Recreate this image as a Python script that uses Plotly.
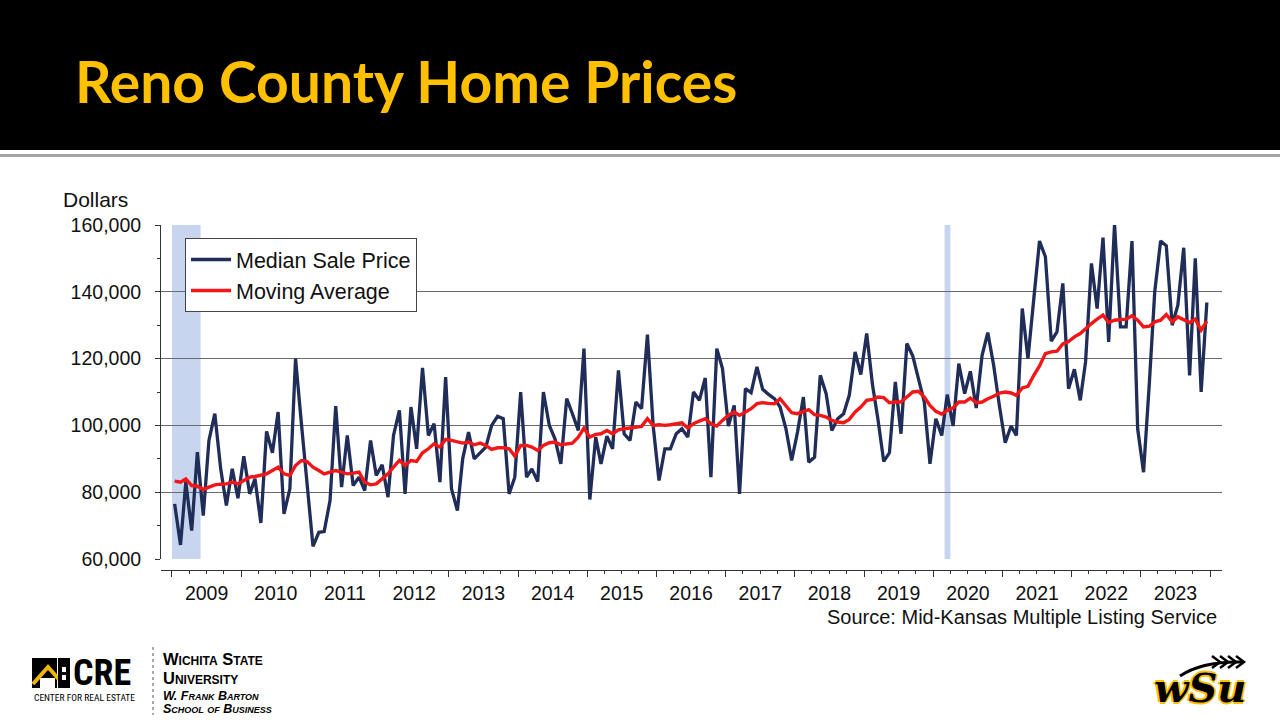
import pandas as pd
import plotly.graph_objects as go

# ---------------- data ----------------
start_month = "2009-01-01"
n_months = 180

median_price = [
    76500, 64200, 83000, 68500, 92000, 73000, 95500, 103500, 87000, 76000, 87000, 78200,      # 2009
    90800, 79500, 84000, 70800, 98200, 91800, 104000, 73500, 81000, 120000, 100500, 83000,    # 2010
    63800, 68000, 68200, 77500, 105800, 81500, 97000, 82000, 84500, 80500, 95500, 85000,      # 2011
    88200, 78500, 97000, 104500, 79500, 105500, 93000, 117200, 97000, 100500, 83000, 114500,  # 2012
    81000, 74500, 90000, 98000, 90000, 91800, 93500, 100000, 102700, 102000, 79500, 84500,    # 2013
    110000, 84500, 87000, 83200, 110000, 100000, 96000, 88500, 108000, 103500, 98500, 123000, # 2014
    77800, 96500, 88500, 96800, 93000, 116500, 97500, 95500, 107000, 105000, 127200, 100000,  # 2015
    83500, 93000, 93000, 97500, 99000, 96500, 110000, 107500, 114200, 84500, 123000, 117000,  # 2016
    99800, 106000, 79500, 111000, 109800, 117500, 110800, 109300, 108000, 105500, 99000, 89500,  # 2017
    98000, 108500, 89000, 90500, 115000, 109500, 98500, 102000, 103500, 109000, 122000, 115200,  # 2018
    127500, 112000, 102000, 89200, 91800, 113000, 97500, 124500, 120800, 114000, 107000, 88500,  # 2019
    102000, 97000, 109200, 99800, 118500, 109500, 116200, 105200, 121000, 127800, 118000, 106000,  # 2020
    94800, 99800, 97000, 135000, 120000, 138000, 155200, 150500, 125200, 128000, 142500, 111000,   # 2021
    116800, 107500, 119000, 148500, 135000, 156200, 125000, 160200, 129500, 129500, 155200, 99000, # 2022
    86000, 113000, 140000, 155200, 153800, 130000, 136000, 153200, 115000, 150000, 110000, 136800, # 2023
]

moving_avg = [
    83300, 83000, 84000, 82000, 81800, 80800, 81500, 82200, 82400, 82500, 83000, 82500,       # 2009
    83500, 84500, 84700, 85000, 85500, 86500, 87500, 85500, 85000, 88000, 89500, 89200,       # 2010
    87500, 86500, 85500, 86000, 86500, 86000, 85500, 85700, 86000, 83000, 82200, 82500,       # 2011
    84000, 85500, 87500, 89500, 88000, 89500, 89200, 91800, 93000, 94500, 93500, 95800,       # 2012
    95500, 95000, 94700, 95000, 94200, 94700, 94000, 92800, 93300, 93300, 93000, 90800,       # 2013
    94000, 94000, 93500, 92500, 94000, 94800, 95000, 94200, 94500, 94700, 96500, 99200,       # 2014
    96500, 97300, 97500, 98500, 97500, 98700, 99000, 99300, 99500, 99700, 102000, 100000,     # 2015
    100200, 100000, 100200, 100500, 100800, 99200, 100500, 101300, 102000, 100500, 99800, 101500,  # 2016
    103000, 104000, 103000, 104000, 105000, 106500, 106800, 106600, 106500, 108000, 106000, 103800,  # 2017
    103500, 104000, 104700, 103200, 103000, 102500, 101500, 101000, 100800, 101800, 104000, 105500,  # 2018
    107500, 107800, 108500, 108300, 106800, 107000, 107000, 108500, 110000, 110200, 108500, 106000,  # 2019
    104200, 103400, 104500, 105200, 107000, 107000, 108200, 106800, 107000, 108000, 108700, 109700,  # 2020
    110000, 109700, 109000, 111200, 111700, 115000, 117800, 121500, 122000, 122200, 124400, 125100,  # 2021
    126500, 127500, 129000, 130500, 131800, 133000, 130800, 131500, 131700, 131800, 132800, 131500,  # 2022
    129500, 129700, 131000, 131500, 133200, 131000, 132500, 131700, 130800, 131800, 128500, 131200,  # 2023
]

recessions = [("2009-01-01", "2009-06-01"), ("2020-03-01", "2020-04-01")]

series_names = ["Median Sale Price", "Moving Average"]
title_text = "Reno County Home Prices"
y_title = "Dollars"
source_text = "Source: Mid-Kansas Multiple Listing Service"

# ---------------- figure ----------------
months = pd.date_range(start_month, periods=n_months, freq="MS") + pd.Timedelta(days=14)

W, H = 1280, 720


def fx(p):
    return p / W


def fy(p):
    return 1 - p / H


FONT = "Arial, Liberation Sans, sans-serif"
COND = "Roboto Condensed, DejaVu Sans Condensed, Liberation Sans Narrow, Arial Narrow, Liberation Sans"
NAVY = "#1f2d58"
RED = "#f21616"
AXC = "#333333"

fig = go.Figure()
fig.add_trace(go.Scatter(x=months, y=median_price, name=series_names[0], mode="lines",
                         line=dict(color=NAVY, width=3.3)))
fig.add_trace(go.Scatter(x=months, y=moving_avg, name=series_names[1], mode="lines",
                         line=dict(color=RED, width=3.4)))

x_range = ["2008-11-04", "2024-03-04"]
y_range = [60000, 160000]

shapes = []
# header band
shapes.append(dict(type="rect", xref="paper", yref="paper", x0=0, x1=1, y0=fy(150), y1=1,
                   fillcolor="black", line=dict(width=0), layer="below"))
shapes.append(dict(type="line", xref="paper", yref="paper", x0=0, x1=1, y0=fy(155.5), y1=fy(155.5),
                   line=dict(color="#a3a3a3", width=3), layer="below"))
# recession shading
for r0, r1 in recessions:
    shapes.append(dict(type="rect", xref="x", yref="y", x0=r0, x1=r1, y0=y_range[0], y1=y_range[1],
                       fillcolor="#c8d5ee", line=dict(width=0), layer="below"))
# CRE logo pieces
shapes.append(dict(type="rect", xref="paper", yref="paper", x0=fx(32), x1=fx(57), y0=fy(688), y1=fy(658),
                   fillcolor="black", line=dict(width=0)))
shapes.append(dict(type="path", xref="paper", yref="paper",
                   path=f"M {fx(33)},{fy(684)} L {fx(48)},{fy(667)} L {fx(63)},{fy(684)}",
                   line=dict(color="#f2b705", width=4)))
shapes.append(dict(type="rect", xref="paper", yref="paper", x0=fx(40), x1=fx(55), y0=fy(688), y1=fy(678),
                   fillcolor="white", line=dict(width=0)))
shapes.append(dict(type="rect", xref="paper", yref="paper", x0=fx(58), x1=fx(70), y0=fy(688), y1=fy(658),
                   fillcolor="black", line=dict(width=0)))
shapes.append(dict(type="rect", xref="paper", yref="paper", x0=fx(62), x1=fx(66), y0=fy(672), y1=fy(667),
                   fillcolor="white", line=dict(width=0)))
shapes.append(dict(type="rect", xref="paper", yref="paper", x0=fx(62), x1=fx(66), y0=fy(680), y1=fy(675),
                   fillcolor="white", line=dict(width=0)))
shapes.append(dict(type="line", xref="paper", yref="paper", x0=fx(153), x1=fx(153), y0=fy(647), y1=fy(715),
                   line=dict(color="#555", width=1, dash="dot")))
# WSU wheat
shapes.append(dict(type="path", xref="paper", yref="paper",
                   path=f"M {fx(1180)},{fy(676)} Q {fx(1202)},{fy(661)} {fx(1243)},{fy(662)}",
                   line=dict(color="black", width=3)))
for k in range(4):
    xx = 1212 + k * 8
    shapes.append(dict(type="path", xref="paper", yref="paper",
                       path=f"M {fx(xx)},{fy(656)} L {fx(xx + 8)},{fy(662)} L {fx(xx)},{fy(668)}",
                       line=dict(color="black", width=2.5)))

annotations = [
    dict(text=title_text, x=fx(73), y=fy(81), xref="paper", yref="paper", xanchor="left", yanchor="middle",
         showarrow=False, font=dict(family="Lato, Carlito, Open Sans, sans-serif", size=57, color="#FFC000",
                                    weight="bold")),
    dict(text=y_title, x=fx(61), y=fy(199), xref="paper", yref="paper", xanchor="left", yanchor="middle",
         showarrow=False, font=dict(family=FONT, size=21, color="#111")),
    dict(text=source_text, x=fx(1219), y=fy(617), xref="paper", yref="paper", xanchor="right",
         yanchor="middle", showarrow=False, font=dict(family=FONT, size=20, color="#111")),
    dict(text="<b>CRE</b>", x=fx(71), y=fy(673), xref="paper", yref="paper", xanchor="left", yanchor="middle",
         showarrow=False, font=dict(family=COND, size=36, color="black")),
    dict(text="CENTER FOR REAL ESTATE", x=fx(32), y=fy(697), xref="paper", yref="paper", xanchor="left",
         yanchor="middle", showarrow=False,
         font=dict(family=COND, size=9.5, color="black")),
    dict(text="Wichita State", x=fx(161), y=fy(659), xref="paper", yref="paper", xanchor="left",
         yanchor="middle", showarrow=False,
         font=dict(family=FONT, size=16.5, color="black", variant="small-caps", weight="bold")),
    dict(text="University", x=fx(161), y=fy(677.5), xref="paper", yref="paper", xanchor="left",
         yanchor="middle", showarrow=False,
         font=dict(family=FONT, size=16.5, color="black", variant="small-caps", weight="bold")),
    dict(text="W. Frank Barton", x=fx(161), y=fy(695.5), xref="paper", yref="paper", xanchor="left",
         yanchor="middle", showarrow=False,
         font=dict(family=FONT, size=12.5, color="black", variant="small-caps", weight="bold", style="italic")),
    dict(text="School of Business", x=fx(161), y=fy(709), xref="paper", yref="paper", xanchor="left",
         yanchor="middle", showarrow=False,
         font=dict(family=FONT, size=12.5, color="black", variant="small-caps", weight="bold", style="italic")),
    dict(text="wSu", x=fx(1200), y=fy(687), xref="paper", yref="paper", xanchor="center", yanchor="middle",
         showarrow=False,
         font=dict(family="DejaVu Serif, Liberation Serif, serif", size=40, color="black", weight="bold",
                   style="italic",
                   shadow="2px 0 0 #FFC000, -2px 0 0 #FFC000, 0 2px 0 #FFC000, 0 -2px 0 #FFC000")),
]

fig.update_layout(
    width=W, height=H,
    margin=dict(l=0, r=0, t=0, b=0, pad=0, autoexpand=False),
    paper_bgcolor="white", plot_bgcolor="rgba(0,0,0,0)",
    font=dict(family=FONT, color="#111"),
    showlegend=True,
    legend=dict(x=fx(185), y=fy(238), xanchor="left", yanchor="top", bgcolor="white",
                bordercolor="#444", borderwidth=1, font=dict(family=FONT, size=21.5, color="#111"),
                itemwidth=40, tracegroupgap=0),
    xaxis=dict(type="date", domain=[fx(161), fx(1222)], range=x_range, anchor="free", position=fy(570),
               showline=True, linecolor=AXC, linewidth=1, showgrid=False, zeroline=False,
               ticks="outside", ticklen=6, tickcolor=AXC, tickwidth=1, automargin=False,
               tick0="2009-01-01", dtick="M12", tickformat="%Y", ticklabelmode="period",
               tickfont=dict(family=FONT, size=19.5, color="#111"),
               minor=dict(tick0="2009-01-01", dtick="M3", ticks="outside", ticklen=3, tickcolor=AXC,
                          showgrid=False)),
    xaxis2=dict(type="date", overlaying="x", anchor="free", position=fy(570), range=x_range,
                showline=False, showgrid=False, zeroline=False, showticklabels=False, automargin=False,
                ticks="inside", ticklen=7, tickcolor=AXC, tick0="2009-01-01", dtick="M12",
                minor=dict(tick0="2009-01-01", dtick="M3", ticks="inside", ticklen=2, tickcolor=AXC,
                           showgrid=False)),
    yaxis=dict(domain=[fy(559), fy(225)], range=y_range, anchor="x", side="left", automargin=False,
               showline=True, linecolor=AXC, linewidth=1, zeroline=False,
               showgrid=True, gridcolor="#6a6a6a", gridwidth=1,
               ticks="outside", ticklen=5, tickcolor=AXC, dtick=20000, tickformat=",",
               ticklabelstandoff=10, tickfont=dict(family=FONT, size=19.5, color="#111"),
               minor=dict(dtick=10000, ticks="outside", ticklen=3, tickcolor=AXC, showgrid=False)),
    yaxis2=dict(overlaying="y", anchor="x", side="left", range=y_range, showline=False, showgrid=False,
                automargin=False,
                zeroline=False, showticklabels=False, ticks="inside", ticklen=4, tickcolor=AXC, dtick=20000,
                minor=dict(dtick=10000, ticks="inside", ticklen=2, tickcolor=AXC, showgrid=False)),
    shapes=shapes,
    annotations=annotations,
)

fig.write_html(
    "out.html",
    post_script="document.body.style.margin='0';document.body.style.overflow='hidden';",
)
